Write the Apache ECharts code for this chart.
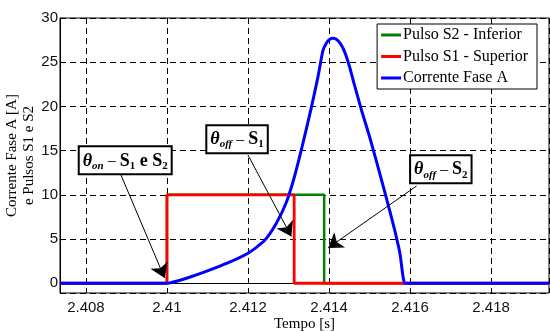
<!DOCTYPE html>
<html>
<head>
<meta charset="utf-8">
<script src="https://cdn.jsdelivr.net/npm/echarts@6/dist/echarts.min.js"></script>
<style>
  html, body { margin: 0; padding: 0; background: #fff; }
  #chart { width: 550px; height: 332px; }
</style>
</head>
<body>
<div id="chart"></div>
<script>
// Phase A current over one conduction interval
const currentTime = [
  2.40736, 2.4099, 2.41, 2.4105, 2.411, 2.4115, 2.412, 2.4124, 2.4127, 2.41295,
  2.41315, 2.41336, 2.41357, 2.41373, 2.41385, 2.41394, 2.41402, 2.4141,
  2.41418, 2.41425, 2.41432, 2.4144, 2.4145, 2.4146, 2.4148, 2.415,
  2.4152, 2.4154, 2.4156, 2.41575, 2.41587, 2.41597, 2.41943
];
const currentA = [
  0, 0, 0, 0.6, 1.4, 2.3, 3.4, 4.8, 6.8, 9.2,
  12.1, 15.9, 20.0, 23.4, 26.3, 27.2, 27.6, 27.7,
  27.6, 27.3, 26.8, 26.0, 24.6, 22.9, 19.6, 16.6,
  13.3, 9.9, 6.4, 3.4, 0, 0, 0
];

// Gate pulses: switch-on and switch-off instants, pulse level
const s1Switch = [2.41, 2.41314];
const s2Switch = [2.41, 2.41388];
const pulseLevel = 10;

// Axis extents
const timeRange = [2.40736, 2.41943];
const ampRange = [-1.1, 30];

// Annotations: box anchor, arrow start, arrow tip (time, value)
const noteBoxAt = [[2.40897, 13.9], [2.41173, 16.3], [2.41676, 12.9]];
const arrowFrom = [[2.40886, 12.3], [2.41200, 14.5], [2.41616, 11.0]];
const arrowTo = [[2.40994, 0.6], [2.41307, 5.3], [2.41398, 4.0]];
const noteText = [
  '{th|θ}{sub|on}{dash| – }{s|S}{sd|1}{s| e S}{sd|2}',
  '{th|θ}{sub|off}{dash| – }{s|S}{sd|1}',
  '{th|θ}{sub|off}{dash| – }{s|S}{sd|2}'
];

function pulseSteps(sw) {
  return [
    [timeRange[0], 0], [sw[0], 0], [sw[0], pulseLevel],
    [sw[1], pulseLevel], [sw[1], 0], [timeRange[1], 0]
  ];
}

const serif = '"Liberation Serif", "Times New Roman", serif';
const sans = '"Liberation Sans", Arial, sans-serif';

const rich = {
  th:   { fontFamily: serif, fontSize: 18, fontWeight: 'bold', fontStyle: 'italic', color: '#000', lineHeight: 21 },
  sub:  { fontFamily: serif, fontSize: 11, fontWeight: 'bold', fontStyle: 'italic', color: '#000', lineHeight: 12, verticalAlign: 'bottom' },
  dash: { fontFamily: serif, fontSize: 16, color: '#000', lineHeight: 21 },
  s:    { fontFamily: serif, fontSize: 18, fontWeight: 'bold', color: '#000', lineHeight: 21 },
  sd:   { fontFamily: serif, fontSize: 11, fontWeight: 'bold', color: '#000', lineHeight: 12, verticalAlign: 'bottom' }
};

const chart = echarts.init(document.getElementById('chart'), null, { renderer: 'canvas' });

const dashedGrid = { show: true, lineStyle: { color: '#000', type: [6, 4], width: 1 } };

chart.setOption({
  animation: false,
  backgroundColor: '#fff',
  grid: {
    left: 60, right: 1, top: 18, bottom: 39,
    outerBoundsMode: 'none',
    containLabel: false,
    show: true, borderColor: '#000', borderWidth: 1, backgroundColor: 'transparent'
  },
  legend: {
    orient: 'vertical',
    right: 13, top: 24,
    backgroundColor: '#fff',
    borderColor: '#000', borderWidth: 1,
    padding: [2, 9, 2, 4],
    itemGap: 3.5,
    itemWidth: 20, itemHeight: 3,
    icon: 'rect',
    textStyle: { fontFamily: serif, fontSize: 16, color: '#000', lineHeight: 18, padding: [0, 0, 0, -3] },
    data: ['Pulso S2 - Inferior', 'Pulso S1 - Superior', 'Corrente Fase A']
  },
  xAxis: {
    type: 'value',
    min: timeRange[0], max: timeRange[1],
    splitNumber: 6,
    name: 'Tempo [s]',
    nameLocation: 'middle',
    nameGap: 24,
    nameMoveOverlap: false,
    nameTextStyle: { fontFamily: serif, fontSize: 15, color: '#000' },
    axisLine: { show: true, lineStyle: { color: '#000', width: 1 } },
    axisTick: { show: true, inside: true, length: 4, lineStyle: { color: '#000' } },
    axisLabel: {
      fontFamily: sans, fontSize: 15, color: '#111', margin: 7,
      showMinLabel: false, showMaxLabel: false
    },
    splitLine: dashedGrid
  },
  yAxis: {
    type: 'value',
    min: ampRange[0], max: ampRange[1],
    splitNumber: 6,
    name: 'Corrente Fase A [A]\ne Pulsos S1 e S2',
    nameLocation: 'middle',
    nameGap: 22,
    nameMoveOverlap: false,
    nameTextStyle: { fontFamily: serif, fontSize: 15, color: '#000', lineHeight: 17 },
    axisLine: { show: true, lineStyle: { color: '#000', width: 1 } },
    axisTick: { show: true, inside: true, length: 4, lineStyle: { color: '#000' } },
    axisLabel: {
      fontFamily: sans, fontSize: 15, color: '#111', margin: 2,
      showMinLabel: false
    },
    splitLine: dashedGrid
  },
  series: [
    {
      name: 'Pulso S2 - Inferior',
      type: 'line',
      data: pulseSteps(s2Switch),
      showSymbol: false,
      itemStyle: { color: '#008000' },
      lineStyle: { color: '#008000', width: 2.5 },
      z: 2
    },
    {
      name: 'Pulso S1 - Superior',
      type: 'line',
      data: pulseSteps(s1Switch),
      showSymbol: false,
      itemStyle: { color: '#ff0000' },
      lineStyle: { color: '#ff0000', width: 2.8 },
      z: 3
    },
    {
      name: 'Corrente Fase A',
      type: 'line',
      data: currentTime.map((t, i) => [t, currentA[i]]),
      showSymbol: false,
      smooth: 0.2,
      itemStyle: { color: '#0000ff' },
      lineStyle: { color: '#0000ff', width: 3 },
      z: 4,
      markLine: {
        silent: true,
        symbol: ['none', 'arrow'],
        symbolSize: 14,
        label: { show: false },
        lineStyle: { color: '#000', width: 1, type: 'solid' },
        itemStyle: { color: '#000' },
        emphasis: { disabled: true },
        data: arrowFrom.map((p, i) => [{ coord: p }, { coord: arrowTo[i] }])
      },
      markPoint: {
        silent: true,
        symbol: 'rect',
        symbolSize: 1,
        itemStyle: { color: 'rgba(0,0,0,0)' },
        emphasis: { disabled: true },
        label: {
          show: true,
          position: 'inside',
          backgroundColor: '#fff',
          borderColor: '#000',
          borderWidth: 2,
          padding: [3, 3, 2, 3],
          rich: rich
        },
        data: noteBoxAt.map((p, i) => ({
          coord: p,
          label: { formatter: noteText[i] }
        }))
      }
    }
  ]
});
</script>
</body>
</html>
